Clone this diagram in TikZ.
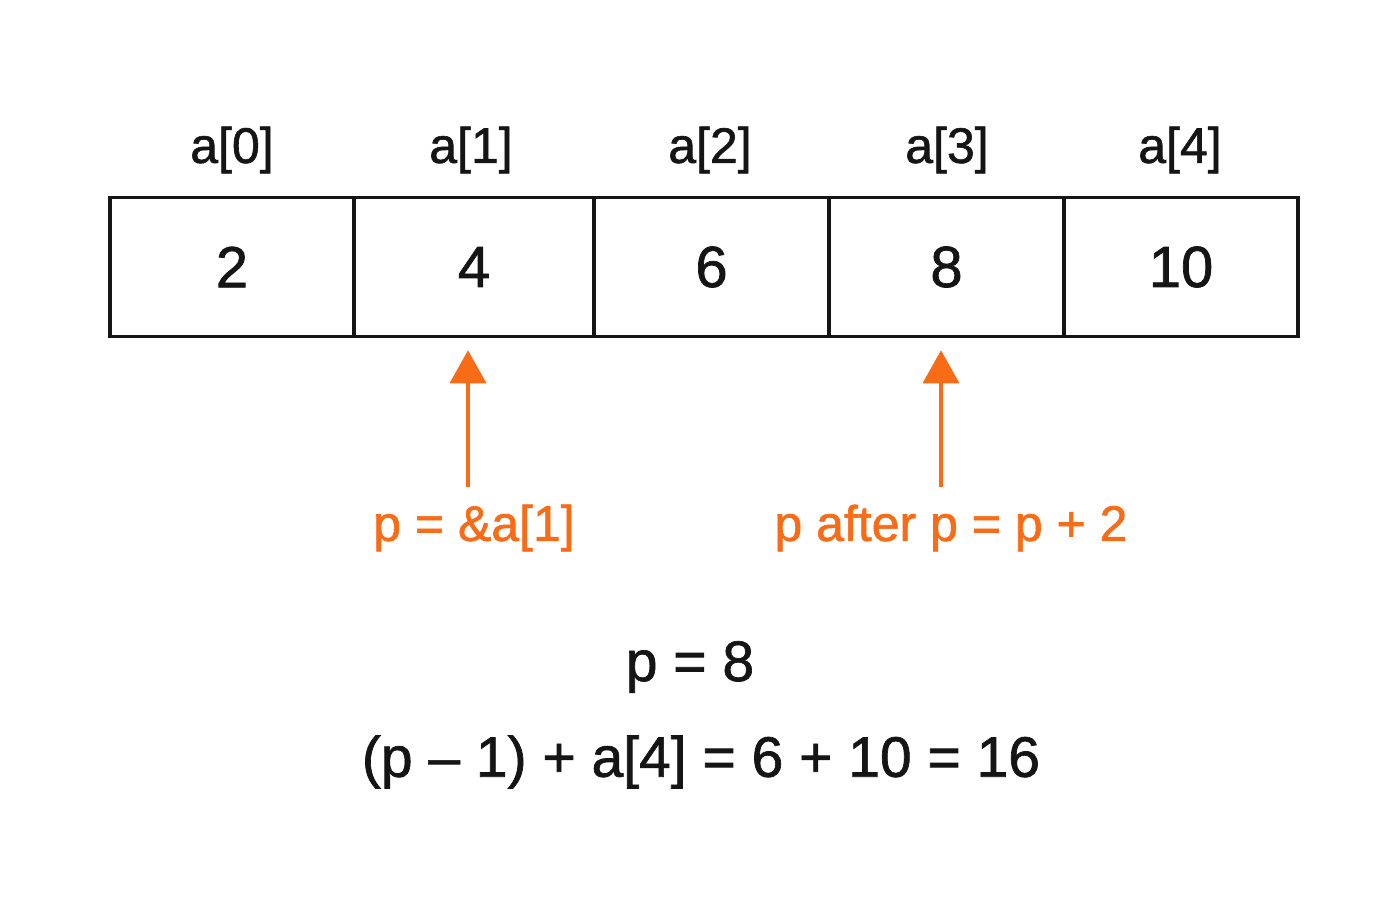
\documentclass[tikz,border=0pt]{standalone}
\usepackage{fontspec}
\setmainfont[FakeBold=1.2]{Liberation Sans}
\usetikzlibrary{arrows.meta}
\definecolor{ptrorange}{HTML}{F86B17}
\definecolor{ink}{HTML}{151515}
\begin{document}
\begin{tikzpicture}[x=1pt,y=-1pt,
  cell/.style={draw=ink,line width=3.5pt,minimum height=139pt,inner sep=0pt,font=\fontsize{58}{60}\selectfont,text=ink},
  idx/.style={font=\fontsize{50}{52}\selectfont,text=ink},
  ptrlabel/.style={font=\fontsize{50}{54}\selectfont,text=ptrorange},
  res/.style={font=\fontsize{57}{60}\selectfont,text=ink},
  ptr/.style={draw=ptrorange,line width=3.5pt,-{Triangle[width=36pt,length=33pt]}}]
\useasboundingbox (0,0) rectangle (1400,900);
\fill[white] (0,0) rectangle (1400,900);
\node[cell,minimum width=244pt] (c0) at (232,267) {2};
\node[cell,minimum width=240pt] (c1) at (474,267) {4};
\node[cell,minimum width=235pt] (c2) at (711.5,267) {6};
\node[cell,minimum width=235pt] (c3) at (946.5,267) {8};
\node[cell,minimum width=234pt] (c4) at (1181,267) {10};
\node[idx] (l0) at (232,150) {a[0]};
\node[idx] (l1) at (471,150) {a[1]};
\node[idx] (l2) at (710,150) {a[2]};
\node[idx] (l3) at (947,150) {a[3]};
\node[idx] (l4) at (1180,150) {a[4]};
\node[ptrlabel] (pa) at (474,528) {p = \&a[1]};
\node[ptrlabel] (pb) at (951,528) {p after p = p + 2};
\coordinate (s1) at (468,487);
\coordinate (s3) at (941,487);
\draw[ptr] (s1) -- ([yshift=-12pt]s1 |- c1.south);
\draw[ptr] (s3) -- ([yshift=-12pt]s3 |- c3.south);
\node[res] (r1) at (690,667) {p = 8};
\node[res] (r2) at (701,762) {(p – 1) + a[4] = 6 + 10 = 16};
\end{tikzpicture}
\end{document}
